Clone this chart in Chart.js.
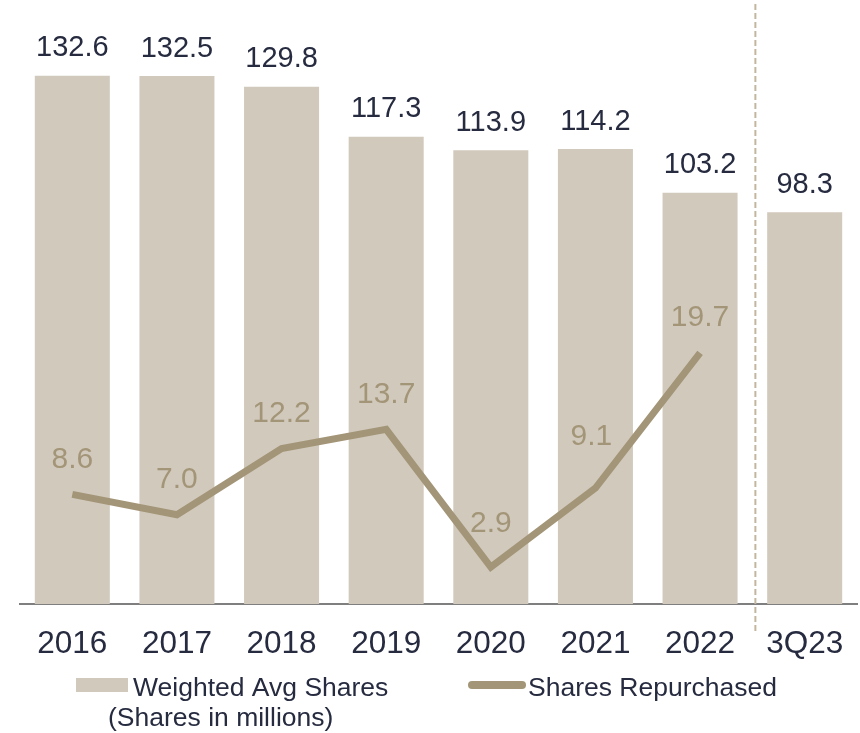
<!DOCTYPE html>
<html>
<head>
<meta charset="utf-8">
<script src="https://cdn.jsdelivr.net/npm/chart.js@4/dist/chart.umd.min.js"></script>
<style>
  html, body { margin: 0; padding: 0; background: #ffffff; }
  #wrap { width: 860px; height: 733px; position: relative; }
</style>
</head>
<body>
<div id="wrap"><canvas id="chart" width="860" height="733"></canvas></div>
<script>
// Categories and series
const periods = ['2016', '2017', '2018', '2019', '2020', '2021', '2022', '3Q23'];
const weightedAvgShares = [132.6, 132.5, 129.8, 117.3, 113.9, 114.2, 103.2, 98.3];
const sharesRepurchased = [8.6, 7.0, 12.2, 13.7, 2.9, 9.1, 19.7];
const legendLabels = ['Weighted Avg Shares', 'Shares Repurchased'];
const unitNote = '(Shares in millions)';

const FONT = '"Liberation Sans", Arial, Helvetica, sans-serif';
const NAVY = '#262b40';
const BAR = '#d1c9bc';
const LINE = '#a39577';

// Vertical lift of each repurchase label above its point
const lineLabelLift = [35, 35, 35, 35, 43, 51, 35];
const lineLabelShiftX = [0, 0, 0, 0, 0, -4, 0];

const valueLabels = {
  id: 'valueLabels',
  afterDatasetsDraw(chart) {
    const ctx = chart.ctx;
    ctx.save();
    ctx.textAlign = 'center';
    ctx.textBaseline = 'middle';
    // bar values
    ctx.fillStyle = NAVY;
    ctx.font = '29px ' + FONT;
    chart.getDatasetMeta(0).data.forEach((el, i) => {
      ctx.fillText(weightedAvgShares[i].toFixed(1), el.x, el.y - 27.5);
    });
    // line values
    ctx.fillStyle = LINE;
    ctx.font = '30px ' + FONT;
    chart.getDatasetMeta(1).data.forEach((el, i) => {
      ctx.fillText(sharesRepurchased[i].toFixed(1), el.x + lineLabelShiftX[i], el.y - lineLabelLift[i]);
    });
    ctx.restore();
  }
};

const periodDivider = {
  id: 'periodDivider',
  afterDraw(chart) {
    const x = chart.scales.x;
    const n = periods.length;
    const xPos = (x.getPixelForValue(n - 2) + x.getPixelForValue(n - 1)) / 2 + 3;
    const ctx = chart.ctx;
    ctx.save();
    ctx.strokeStyle = '#c2b69f';
    ctx.lineWidth = 2;
    ctx.setLineDash([6, 3]);
    ctx.beginPath();
    ctx.moveTo(xPos, 4);
    ctx.lineTo(xPos, 634);
    ctx.stroke();
    ctx.restore();
  }
};

const customLegend = {
  id: 'customLegend',
  afterDraw(chart) {
    const ctx = chart.ctx;
    ctx.save();
    ctx.font = '26.5px ' + FONT;
    ctx.textBaseline = 'alphabetic';
    ctx.textAlign = 'left';
    // bar swatch
    ctx.fillStyle = BAR;
    ctx.fillRect(76, 678, 52, 14);
    ctx.fillStyle = NAVY;
    ctx.fillText(legendLabels[0], 133, 696);
    ctx.fillText(unitNote, 108, 726);
    // line swatch
    ctx.strokeStyle = LINE;
    ctx.lineWidth = 8;
    ctx.lineCap = 'round';
    ctx.beginPath();
    ctx.moveTo(472, 685);
    ctx.lineTo(522, 685);
    ctx.stroke();
    ctx.fillStyle = NAVY;
    ctx.fillText(legendLabels[1], 528, 696);
    ctx.restore();
  }
};

new Chart(document.getElementById('chart'), {
  type: 'bar',
  data: {
    labels: periods,
    datasets: [
      {
        label: legendLabels[0],
        data: weightedAvgShares,
        backgroundColor: BAR,
        barPercentage: 0.717,
        categoryPercentage: 1,
        yAxisID: 'y',
        order: 2
      },
      {
        type: 'line',
        label: legendLabels[1],
        data: sharesRepurchased,
        borderColor: LINE,
        backgroundColor: LINE,
        borderWidth: 7,
        pointRadius: 0,
        tension: 0,
        fill: false,
        yAxisID: 'y2',
        order: 1
      }
    ]
  },
  options: {
    responsive: false,
    animation: false,
    layout: { padding: { left: 20, right: 3, top: 0, bottom: 0 } },
    plugins: {
      legend: { display: false },
      tooltip: { enabled: false }
    },
    scales: {
      x: {
        grid: { display: true, drawOnChartArea: false, drawTicks: false, color: 'transparent' },
        border: { display: true, color: '#7f7f7f', width: 2 },
        ticks: {
          color: NAVY,
          font: { family: FONT, size: 31.5 },
          padding: 21,
          maxRotation: 0
        },
        afterFit(scale) {
          scale.height = 129;
          scale.paddingLeft = 0;
          scale.paddingRight = 0;
        }
      },
      y: { display: false, min: 0, max: 151.6 },
      y2: { display: false, min: 0, max: 47.4 }
    }
  },
  plugins: [valueLabels, periodDivider, customLegend]
});
</script>
</body>
</html>
